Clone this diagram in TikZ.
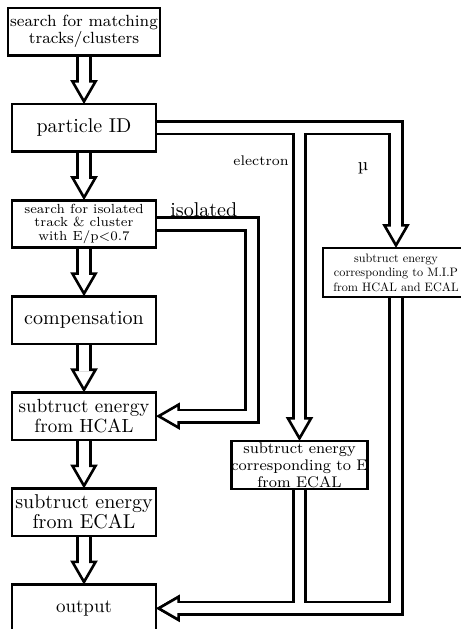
\documentclass[tikz,border=0pt]{standalone}
\usepackage{fontspec}
\newfontfamily\lmten{lmroman10-regular.otf}
\usepackage{tikz}
\usetikzlibrary{arrows.meta}
\usetikzlibrary{positioning}
\usetikzlibrary{calc}

\begin{document}
\begin{tikzpicture}[x=0.5pt,y=0.5pt,node distance=24.3pt,
  box/.style={draw, line width=1.3pt, outer sep=0pt, inner sep=1pt, align=center,
    minimum width=72pt, minimum height=23.75pt, font=\fontsize{10}{10}\selectfont},
  pipe/.style={line width=7.55pt, -{Triangle[length=12pt,width=13.5pt,line width=1.3pt,fill=white]}},
  hole/.style={line width=4.95pt, white, shorten <=0.65pt, shorten >=10.5pt}]
  \useasboundingbox (0,0) rectangle (461,-629);
  \node [box, font=\fontsize{8.1}{8.5}\selectfont] (match) at (84,-31.75) {search for matching\\tracks/clusters};
  \node [box, below=of match] (pid) {particle ID};
  \node [box, below=of pid, font=\fontsize{6.6}{6.6}\selectfont] (iso) {search for isolated\\track \& cluster\\with E/p<0.7};
  \node [box, below=of iso] (comp) {compensation};
  \node [box, below=of comp, font=\fontsize{9.5}{10}\selectfont] (hcal) {subtruct energy\\from HCAL};
  \node [box, below=of hcal] (ecal) {subtruct energy\\from ECAL};
  \node [box, below=of ecal, font=\fontsize{9.5}{10}\selectfont] (out) {output};
  \node [box, minimum width=73pt, minimum height=24.5pt, font=\lmten\fontsize{6.1}{7.25}\selectfont] (mip) at (396,-272.5) {subtruct energy\\corresponding to M.I.P\\from HCAL and ECAL};
  \node [box, minimum width=66.5pt, minimum height=24pt, inner sep=0pt, font=\fontsize{7.7}{8.5}\selectfont] (elec) at (299.5,-465) {subtruct energy\\corresponding to E\\from ECAL};
  % labels on the pipes
  \node [font=\fontsize{10}{10}\selectfont, anchor=base west, inner sep=0pt] (isolab) at (170,-216) {isolated};
  \node [font=\fontsize{7}{8}\selectfont, anchor=base east, inner sep=0pt] (eleclab) at (289,-165) {electron};
  \node [font=\fontsize{9}{10}\selectfont, anchor=base, inner sep=0pt] (mulab) at (363,-170) {µ};
  \coordinate (isox) at ($(iso.east)+(96,0)$);
  % black outline first, then the white inside
  \foreach \lay in {pipe,hole} {
    \draw [\lay] (match) -- (pid);
    \draw [\lay] (pid) -- (iso);
    \draw [\lay] (iso) -- (comp);
    \draw [\lay] (comp) -- (hcal);
    \draw [\lay] (hcal) -- (ecal);
    \draw [\lay] (ecal) -- (out);
    \draw [\lay] (pid.east) -| (mip.north);
    \draw [\lay] (pid.east) -| (elec.north);
    \draw [\lay] (iso.east) -- (isox) |- (hcal.east);
    \draw [\lay] (mip.south) |- (out.east);
    \draw [\lay] (elec.south) |- (out.east);
  }
\end{tikzpicture}
\end{document}
